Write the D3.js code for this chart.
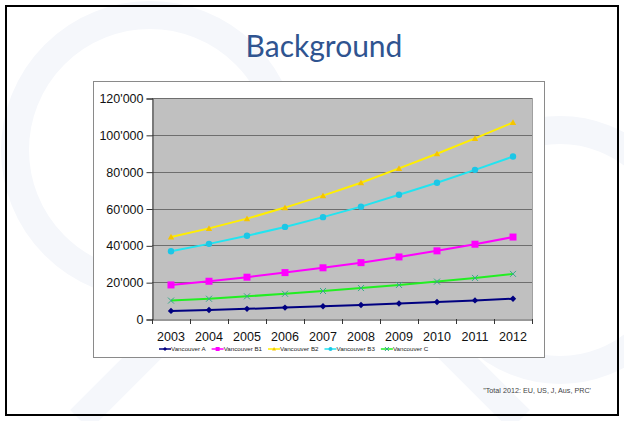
<!DOCTYPE html>
<html><head><meta charset="utf-8">
<script src="https://cdn.jsdelivr.net/npm/d3@7"></script>
<style>html,body{margin:0;padding:0;background:#fff;}svg{display:block;}</style>
</head><body>
<svg id="c" width="624" height="421"></svg>
<script>
const years = ["2003","2004","2005","2006","2007","2008","2009","2010","2011","2012"];
const vancouverA  = [4400, 4900, 5500, 6200, 6900, 7600, 8400, 9200, 10100, 11000];
const vancouverB1 = [18500, 20500, 22700, 25200, 27800, 30600, 33700, 37000, 40600, 44500];
const vancouverB2 = [44500, 49200, 54500, 60500, 67000, 74000, 81800, 89700, 98100, 106700];
const vancouverB3 = [36800, 40800, 45200, 50000, 55300, 61000, 67500, 74000, 81000, 88200];
const vancouverC  = [10000, 11000, 12300, 13700, 15200, 16800, 18500, 20300, 22300, 24500];
const yTicks = [0, 20000, 40000, 60000, 80000, 100000, 120000];
const seriesNames = ["Vancouver A","Vancouver B1","Vancouver B2","Vancouver B3","Vancouver C"];
const title = "Background";
const footnote = "\"Total 2012: EU, US, J,  Aus, PRC'";

const series = [
  {name: seriesNames[0], values: vancouverA,  color: "#000080", marker: "diamond"},
  {name: seriesNames[1], values: vancouverB1, color: "#ff00ff", marker: "square"},
  {name: seriesNames[2], values: vancouverB2, color: "#ffee00", mcolor:"#f5c400", marker: "triangle"},
  {name: seriesNames[3], values: vancouverB3, color: "#22e4f0", mcolor:"#1cc6e6", marker: "circle"},
  {name: seriesNames[4], values: vancouverC,  color: "#22ee22", mcolor:"#33aa88", marker: "x"}
];

const svg = d3.select("#c");
// faint watermark
const wm = svg.append("g").attr("fill","none").attr("stroke","#f5f7fb").attr("stroke-width",28);
wm.append("circle").attr("cx",150).attr("cy",150).attr("r",135);
wm.append("circle").attr("cx",560).attr("cy",250).attr("r",120);
wm.append("path").attr("d","M80,420 L300,200 L520,420");

// outer frame
svg.append("rect").attr("x",6).attr("y",6).attr("width",612).attr("height",409)
  .attr("fill","none").attr("stroke","#000").attr("stroke-width",2);

svg.append("text").attr("x",324).attr("y",57).attr("text-anchor","middle")
  .attr("font-family","Lato, 'Noto Sans', sans-serif").attr("font-size",30)
  .attr("fill","#2f5490").text(title);

// chart box
svg.append("rect").attr("x",93.5).attr("y",81.5).attr("width",451).attr("height",276)
  .attr("fill","#fff").attr("stroke","#8a8a8a").attr("stroke-width",1);

const L=152, R=532, T=98, B=319;
const x = d3.scaleBand().domain(years).range([L,R]);
const y = d3.scaleLinear().domain([0,120000]).range([B,T]);

svg.append("rect").attr("x",L).attr("y",T).attr("width",R-L).attr("height",B-T).attr("fill","#c0c0c0");

// gridlines
svg.append("g").selectAll("line").data(yTicks.filter(d=>d>0)).join("line")
  .attr("x1",L).attr("x2",R).attr("y1",d=>Math.round(y(d))+0.5).attr("y2",d=>Math.round(y(d))+0.5)
  .attr("stroke","#6e6e6e").attr("stroke-width",1);
svg.append("line").attr("x1",R+0.5).attr("x2",R+0.5).attr("y1",T).attr("y2",B).attr("stroke","#a0a0a0");

const fmt = d => d===0 ? "0" : d3.format(",")(d).replace(/,/g,"'");
const yAxis = svg.append("g").attr("transform",`translate(${L+0.5},0.5)`)
  .call(d3.axisLeft(y).tickValues(yTicks).tickFormat(fmt).tickSize(6).tickPadding(3));
yAxis.select(".domain").attr("stroke","#333");
yAxis.selectAll(".tick line").attr("stroke","#333");
yAxis.selectAll("text").attr("font-family","Arial, 'Liberation Sans', sans-serif").attr("font-size",12.5).attr("fill","#111");

const xAxis = svg.append("g").attr("transform",`translate(0,${B+0.5})`)
  .call(d3.axisBottom(x).tickSize(0).tickPadding(13));
xAxis.select(".domain").attr("stroke","#333");
xAxis.selectAll("text").attr("font-family","Arial, 'Liberation Sans', sans-serif").attr("font-size",12.5).attr("fill","#111");
// category boundary ticks
const bounds = years.map(d=>x(d)).concat([R]);
svg.append("g").selectAll("line").data(bounds).join("line")
  .attr("x1",d=>Math.round(d)+0.5).attr("x2",d=>Math.round(d)+0.5).attr("y1",B).attr("y2",B+5)
  .attr("stroke","#333");

function drawMarker(g, type, cx, cy, col, s){
  if(type==="diamond") g.append("path").attr("d",`M${cx},${cy-s}L${cx+s},${cy}L${cx},${cy+s}L${cx-s},${cy}Z`).attr("fill",col);
  else if(type==="square") g.append("rect").attr("x",cx-s).attr("y",cy-s).attr("width",2*s).attr("height",2*s).attr("fill",col);
  else if(type==="triangle") g.append("path").attr("d",`M${cx},${cy-s}L${cx+s},${cy+s*0.8}L${cx-s},${cy+s*0.8}Z`).attr("fill",col);
  else if(type==="circle") g.append("circle").attr("cx",cx).attr("cy",cy).attr("r",s).attr("fill",col);
  else if(type==="x") g.append("path").attr("d",`M${cx-s},${cy-s}L${cx+s},${cy+s}M${cx-s},${cy+s}L${cx+s},${cy-s}`).attr("stroke",col).attr("stroke-width",1);
}

const line = d3.line().x((d,i)=>x(years[i])+x.bandwidth()/2).y(d=>y(d));
series.forEach(s=>{
  const g = svg.append("g");
  g.append("path").datum(s.values).attr("d",line).attr("fill","none").attr("stroke",s.color).attr("stroke-width",2);
  s.values.forEach((v,i)=>{
    const sz = s.marker==="square"?3.5:(s.marker==="x"?3:3.2);
    drawMarker(g, s.marker, x(years[i])+x.bandwidth()/2, y(v), s.mcolor||s.color, sz);
  });
});

// legend
const lg = svg.append("g");
let lx = 159; const ly = 349;
series.forEach(s=>{
  lg.append("line").attr("x1",lx).attr("x2",lx+12).attr("y1",ly).attr("y2",ly).attr("stroke",s.color).attr("stroke-width",1.5);
  drawMarker(lg, s.marker, lx+6, ly, s.mcolor||s.color, 2);
  const t = lg.append("text").attr("x",lx+12).attr("y",ly+2.2)
    .attr("font-family","Arial, 'Liberation Sans', sans-serif").attr("font-size",6.2).attr("fill","#222").text(s.name);
  lx += 12 + t.node().getComputedTextLength() + 6;
});

svg.append("text").attr("x",591).attr("y",393).attr("text-anchor","end")
  .attr("font-family","Arial, 'Liberation Sans', sans-serif").attr("font-size",7.2).attr("fill","#444").text(footnote);
</script>
</body></html>
